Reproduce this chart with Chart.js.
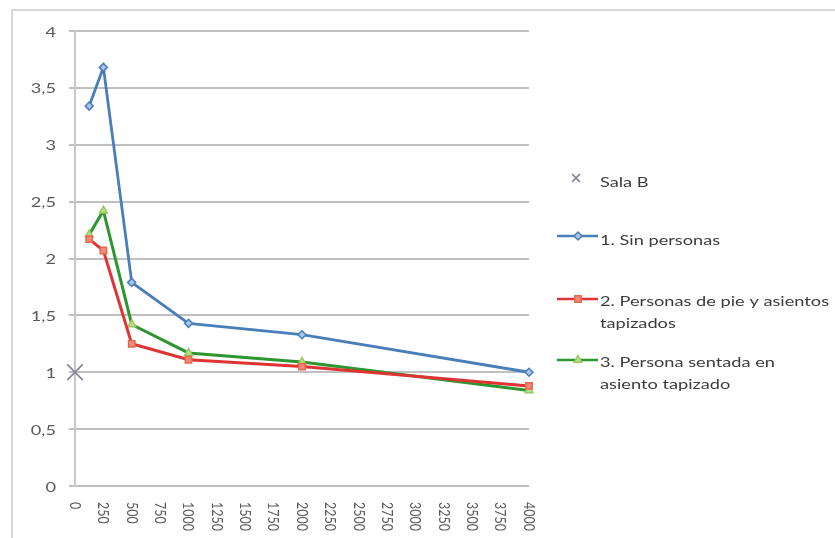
<!DOCTYPE html>
<html>
<head>
<meta charset="utf-8">
<script src="https://cdn.jsdelivr.net/npm/chart.js@4.4.1/dist/chart.umd.min.js"></script>
<style>
  html, body { margin: 0; padding: 0; background: #ffffff; }
  #wrap { position: relative; width: 835px; height: 538px; overflow: hidden; }
  #frame { position: absolute; left: 11px; top: 9px; width: 840px; height: 540px;
           border: 2px solid #d6d6d6; box-sizing: border-box; }
  canvas { position: absolute; left: 0; top: 0; }
</style>
</head>
<body>
<div id="wrap">
  <div id="frame"></div>
  <canvas id="chart" width="835" height="538"></canvas>
</div>
<script>
// Frequencies (Hz) and reverberation times (s)
const frequencies = [125, 250, 500, 1000, 2000, 4000];
const sinPersonas = [3.34, 3.68, 1.79, 1.43, 1.33, 1.00];
const personasDePie = [2.17, 2.07, 1.25, 1.11, 1.05, 0.88];
const personaSentada = [2.21, 2.42, 1.42, 1.17, 1.09, 0.84];
const salaB = [{ x: 0, y: 1.0 }];
const xTickValues = [0, 250, 500, 750, 1000, 1250, 1500, 1750, 2000, 2250, 2500, 2750, 3000, 3250, 3500, 3750, 4000];
const yTickValues = [0, 0.5, 1, 1.5, 2, 2.5, 3, 3.5, 4];

const seriesNames = ['Sala B', '1. Sin personas', '2. Personas de pie y asientos tapizados', '3. Persona sentada en asiento tapizado'];

const toPoints = vals => frequencies.map((f, i) => ({ x: f, y: vals[i] }));

const FONT = 'Lato, "Open Sans", sans-serif';
const SX = 1.3;          // wide lettering
const TICK_COLOR = '#5a5a5a';

// Axis labels: y values with decimal comma, x values reading downwards
const axisLabelsPlugin = {
  id: 'axisLabels',
  afterDraw(chart) {
    const ctx = chart.ctx, xs = chart.scales.x, ys = chart.scales.y;
    ctx.save();
    ctx.fillStyle = TICK_COLOR;

    ctx.font = '14px ' + FONT;
    ctx.textAlign = 'right';
    ctx.textBaseline = 'middle';
    yTickValues.forEach(v => {
      ctx.save();
      ctx.translate(56, ys.getPixelForValue(v) + 1);
      ctx.scale(SX, 1);
      ctx.fillText(String(v).replace('.', ','), 0, 0);
      ctx.restore();
    });

    ctx.font = '12.5px ' + FONT;
    ctx.textAlign = 'left';
    xTickValues.forEach(v => {
      ctx.save();
      ctx.translate(xs.getPixelForValue(v), 502);
      ctx.scale(SX, 1);
      ctx.rotate(Math.PI / 2);
      ctx.fillText(String(v), 0, 0);
      ctx.restore();
    });
    ctx.restore();
  }
};

// Legend on the right with wrapped labels
const sideLegendPlugin = {
  id: 'sideLegend',
  afterDraw(chart) {
    const ctx = chart.ctx;
    const items = [
      { ds: 0, markY: 178, lines: ['Sala B'], textY: 182, line: false, mx: 576, r: 5.5 },
      { ds: 1, markY: 236, lines: ['1. Sin personas'], textY: 240, line: true, mx: 578 },
      { ds: 2, markY: 299, lines: ['2. Personas de pie y asientos', 'tapizados'], textY: 301, line: true, mx: 578 },
      { ds: 3, markY: 360, lines: ['3. Persona sentada en', 'asiento tapizado'], textY: 362, line: true, mx: 578 }
    ];
    ctx.save();
    items.forEach(it => {
      const ds = chart.data.datasets[it.ds];
      if (it.line) {
        ctx.strokeStyle = ds.borderColor;
        ctx.lineWidth = 2.5;
        ctx.beginPath();
        ctx.moveTo(557, it.markY);
        ctx.lineTo(598, it.markY);
        ctx.stroke();
      }
      ctx.fillStyle = ds.pointBackgroundColor;
      ctx.strokeStyle = ds.pointBorderColor;
      ctx.lineWidth = ds.pointBorderWidth;
      Chart.helpers.drawPoint(ctx, {
        pointStyle: ds.pointStyle,
        radius: it.r || ds.pointRadius,
        borderWidth: ds.pointBorderWidth,
      }, it.mx, it.markY);
      ctx.fillStyle = '#3c3c3c';
      ctx.font = '14px ' + FONT;
      ctx.textAlign = 'left';
      ctx.textBaseline = 'middle';
      it.lines.forEach((t, k) => {
        ctx.save();
        ctx.translate(600, it.textY + k * 22);
        ctx.scale(SX, 1);
        ctx.fillText(t, 0, 0);
        ctx.restore();
      });
    });
    ctx.restore();
  }
};

new Chart(document.getElementById('chart'), {
  type: 'scatter',
  data: {
    datasets: [
      {
        label: seriesNames[0], data: salaB, showLine: false,
        pointStyle: 'crossRot', pointRadius: 11, pointBorderWidth: 1.8,
        borderColor: '#8a8a9c', pointBorderColor: '#8a8a9c', pointBackgroundColor: '#8a8a9c'
      },
      {
        label: seriesNames[1], data: toPoints(sinPersonas), showLine: true,
        borderColor: '#4a7ebb', borderWidth: 2.8,
        pointStyle: 'rectRot', pointRadius: 4, pointBorderWidth: 1.5,
        pointBorderColor: '#4a7ebb', pointBackgroundColor: '#a9c4e8'
      },
      {
        label: seriesNames[2], data: toPoints(personasDePie), showLine: true,
        borderColor: '#e03333', borderWidth: 3,
        pointStyle: 'rect', pointRadius: 4.5, pointBorderWidth: 1.5,
        pointBorderColor: '#e46a4a', pointBackgroundColor: '#f08a7a'
      },
      {
        label: seriesNames[3], data: toPoints(personaSentada), showLine: true,
        borderColor: '#2c962f', borderWidth: 3,
        pointStyle: 'triangle', pointRadius: 4.5, pointBorderWidth: 1.5,
        pointBorderColor: '#9cc860', pointBackgroundColor: '#b8e08a'
      }
    ]
  },
  options: {
    responsive: false,
    animation: false,
    clip: false,
    layout: { padding: { left: 0, top: 31, right: 306, bottom: 0 } },
    plugins: { legend: { display: false }, tooltip: { enabled: false } },
    elements: { line: { tension: 0 } },
    scales: {
      x: {
        type: 'linear', min: 0, max: 4000,
        afterBuildTicks: s => { s.ticks = xTickValues.map(v => ({ value: v })); },
        afterFit: s => { s.height = 52; },
        ticks: { display: false },
        grid: { display: false },
        border: { display: false }
      },
      y: {
        type: 'linear', min: 0, max: 4,
        afterBuildTicks: s => { s.ticks = yTickValues.map(v => ({ value: v })); },
        afterFit: s => { s.width = 75; },
        ticks: { display: false },
        grid: { color: '#c0c0c0', lineWidth: 2, tickLength: 6 },
        border: { display: true, color: '#c8c8c8', width: 2 }
      }
    }
  },
  plugins: [axisLabelsPlugin, sideLegendPlugin]
});
</script>
</body>
</html>
